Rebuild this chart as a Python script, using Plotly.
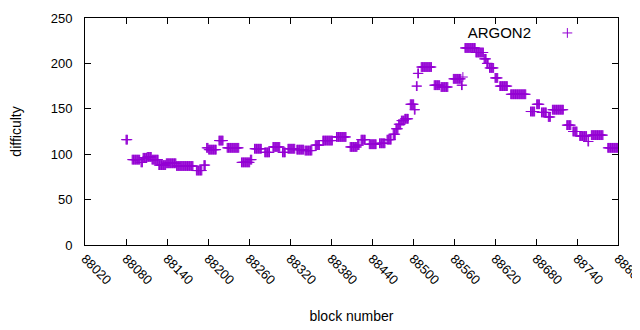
import numpy as np
import plotly.graph_objects as go

# Runs of constant difficulty: first block, last block, difficulty
run_start = [88080, 88089, 88102, 88105, 88111, 88118, 88128, 88139, 88154, 88183,
             88194, 88198, 88201, 88216, 88228, 88249, 88262, 88268, 88283, 88295,
             88309, 88317, 88330, 88342, 88357, 88368, 88388, 88408, 88419, 88424,
             88436, 88451, 88462, 88471, 88475, 88479, 88483, 88488, 88496, 88502,
             88505, 88507, 88512, 88531, 88541, 88559, 88571, 88573, 88576, 88592,
             88604, 88608, 88612, 88620, 88627, 88643, 88672, 88681, 88688, 88698,
             88704, 88725, 88734, 88744, 88756, 88761, 88785]
run_end = [88082, 88100, 88104, 88110, 88117, 88127, 88138, 88153, 88178, 88191,
           88196, 88200, 88212, 88222, 88245, 88261, 88264, 88278, 88290, 88305,
           88313, 88327, 88340, 88352, 88363, 88382, 88402, 88418, 88421, 88430,
           88446, 88459, 88468, 88474, 88478, 88482, 88487, 88493, 88501, 88503,
           88506, 88508, 88527, 88539, 88551, 88570, 88572, 88573, 88591, 88603,
           88607, 88610, 88618, 88624, 88638, 88665, 88678, 88685, 88695, 88701,
           88720, 88731, 88740, 88754, 88757, 88778, 88800]
run_difficulty = [116, 94, 91, 96, 97, 94, 88, 90, 87, 82,
                  88, 107, 105, 115, 107, 91, 94, 106, 102, 108,
                  102, 106, 105, 104, 110, 115, 119, 108, 110, 116,
                  111, 112, 116, 122, 128, 133, 137, 139, 155, 149,
                  175, 189, 196, 176, 174, 183, 176, 185, 217, 212,
                  205, 200, 195, 184, 175, 166, 147, 155, 146, 141,
                  149, 132, 125, 120, 114, 121, 107]

x_tick_values = [88020, 88080, 88140, 88200, 88260, 88320, 88380, 88440,
                 88500, 88560, 88620, 88680, 88740, 88800]
x_tick_labels = [str(v) for v in x_tick_values]
y_tick_values = [0, 50, 100, 150, 200, 250]
y_tick_labels = [str(v) for v in y_tick_values]

blocks = []
difficulty = []
for s, e, d in zip(run_start, run_end, run_difficulty):
    for b in range(s, e + 1):
        blocks.append(b)
        difficulty.append(d)

color = "#9400D3"
fig = go.Figure()
fig.add_trace(go.Scatter(
    x=blocks, y=difficulty, mode="markers", name=" ",
    marker=dict(symbol="cross-thin", size=7, color=color,
                line=dict(color=color, width=1)),
    showlegend=True,
))

axis_common = dict(showgrid=False, zeroline=False, showline=True, linecolor="black",
                   linewidth=1, mirror="ticks", ticks="inside", ticklen=6,
                   tickcolor="black", tickfont=dict(size=13, color="black"),
                   automargin=False, ticklabeloverflow="allow")

# page body has an 8px margin, so the figure is 632x322 to fill the 640x330 window
fig.update_layout(
    width=632, height=322,
    margin=dict(l=77, r=22, t=10, b=85),
    paper_bgcolor="white", plot_bgcolor="white",
    font=dict(family="Liberation Sans, Arial, sans-serif", size=13, color="black"),
    xaxis=dict(range=[88020, 88800], tickvals=x_tick_values, ticktext=x_tick_labels,
               tickangle=45,
               title=dict(text="block number", standoff=24, font=dict(size=14)),
               **axis_common),
    yaxis=dict(range=[0, 250], tickvals=y_tick_values, ticktext=y_tick_labels,
               ticklabelstandoff=9,
               title=dict(text="difficulty", standoff=25, font=dict(size=14)),
               **axis_common),
    legend=dict(orientation="h", x=0.96, xanchor="right", y=1.0, yanchor="top",
                bgcolor="rgba(0,0,0,0)",
                title=dict(text="ARGON2\u00a0\u00a0", font=dict(size=15), side="left"),
                font=dict(size=13)),
)

fig.write_html("out.html")
